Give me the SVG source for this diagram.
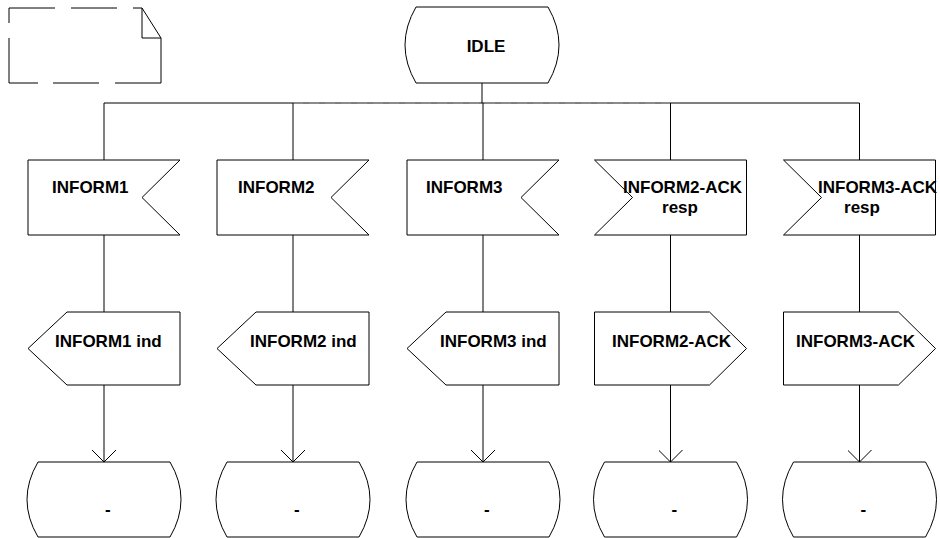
<svg xmlns="http://www.w3.org/2000/svg" width="940" height="538" viewBox="0 0 940 538">
<style>
.s{fill:#fff;stroke:#000;stroke-width:1}
.c{fill:none;stroke:#000;stroke-width:1}
.t{font-family:"Liberation Sans",Arial,sans-serif;font-weight:bold;font-size:17px;fill:#000}
</style>
<defs>
<marker id="arr" viewBox="0 0 12 24" refX="12" refY="12" markerWidth="12" markerHeight="24" markerUnits="userSpaceOnUse" orient="auto">
<path d="M0,0 L12,12 L0,24" fill="none" stroke="#000" stroke-width="1"/>
</marker>
</defs>
<rect width="940" height="538" fill="#fff"/>
<g id="comment">
<path class="c" d="M9,8 L55,8 M71,8 L117,8 M133,8 L142,8 L161,38 L161,83 L115,83 M99,83 L53,83 M38,83 L9,83 L9,38 M9,23 L9,8 M142,8 L142,38 L161,38"/>
</g>
<g id="connectors">
<path class="c" d="M482,83 L482,103 M104,103 L859.5,103"/>
<path d="M293,103 L670.5,103" fill="none" stroke="#999" stroke-width="1" stroke-dasharray="10 6"/>
<path class="c" d="M104,103 L104,160 M293,103 L293,160 M483,103 L483,160 M670.5,103 L670.5,160 M859.5,103 L859.5,160"/>
<path class="c" d="M104,235 L104,312 M293,235 L293,312 M483,235 L483,312 M670.5,235 L670.5,312 M859.5,235 L859.5,312"/>
<path class="c" d="M104,385 L104,462" marker-end="url(#arr)"/>
<path class="c" d="M293,385 L293,462" marker-end="url(#arr)"/>
<path class="c" d="M483,385 L483,462" marker-end="url(#arr)"/>
<path class="c" d="M670.5,385 L670.5,462" marker-end="url(#arr)"/>
<path class="c" d="M859.5,385 L859.5,462" marker-end="url(#arr)"/>
</g>
<g id="idle">
<path class="s" d="M416,7 L548,7 Q570,45 548,83 L416,83 Q394,45 416,7 Z"/>
<text class="t" x="486" y="52" text-anchor="middle">IDLE</text>
</g>
<g id="in1">
<path class="s" d="M28,160 L180,160 L142,197.5 L180,235 L28,235 Z"/>
<text class="t" x="52" y="193">INFORM1</text>
</g>
<g id="in2">
<path class="s" d="M217,160 L369,160 L331,197.5 L369,235 L217,235 Z"/>
<text class="t" x="238" y="193">INFORM2</text>
</g>
<g id="in3">
<path class="s" d="M407,160 L559,160 L521,197.5 L559,235 L407,235 Z"/>
<text class="t" x="426" y="193">INFORM3</text>
</g>
<g id="in4">
<path class="s" d="M594.5,160 L746.5,160 L746.5,235 L594.5,235 L632.5,197.5 Z"/>
<text class="t" x="623" y="193">INFORM2-ACK</text>
<text class="t" x="680" y="213" text-anchor="middle">resp</text>
</g>
<g id="in5">
<path class="s" d="M783.5,160 L935.5,160 L935.5,235 L783.5,235 L821.5,197.5 Z"/>
<text class="t" x="818" y="193">INFORM3-ACK</text>
<text class="t" x="862" y="213" text-anchor="middle">resp</text>
</g>
<g id="out1">
<path class="s" d="M67,312 L180,312 L180,385 L67,385 L28,348.5 Z"/>
<text class="t" x="55" y="347">INFORM1 ind</text>
</g>
<g id="out2">
<path class="s" d="M256,312 L369,312 L369,385 L256,385 L217,348.5 Z"/>
<text class="t" x="250" y="347">INFORM2 ind</text>
</g>
<g id="out3">
<path class="s" d="M446,312 L559,312 L559,385 L446,385 L407,348.5 Z"/>
<text class="t" x="440" y="347">INFORM3 ind</text>
</g>
<g id="out4">
<path class="s" d="M594.5,312 L709.5,312 L746.5,348.5 L709.5,385 L594.5,385 Z"/>
<text class="t" x="612" y="347">INFORM2-ACK</text>
</g>
<g id="out5">
<path class="s" d="M783.5,312 L898.5,312 L935.5,348.5 L898.5,385 L783.5,385 Z"/>
<text class="t" x="796" y="347">INFORM3-ACK</text>
</g>
<g id="end1">
<path class="s" d="M38,462 L170,462 Q192,499.5 170,537 L38,537 Q16,499.5 38,462 Z"/>
<text class="t" x="105" y="515">-</text>
</g>
<g id="end2">
<path class="s" d="M227,462 L359,462 Q381,499.5 359,537 L227,537 Q205,499.5 227,462 Z"/>
<text class="t" x="294" y="515">-</text>
</g>
<g id="end3">
<path class="s" d="M417,462 L549,462 Q571,499.5 549,537 L417,537 Q395,499.5 417,462 Z"/>
<text class="t" x="484" y="515">-</text>
</g>
<g id="end4">
<path class="s" d="M604.5,462 L736.5,462 Q758.5,499.5 736.5,537 L604.5,537 Q582.5,499.5 604.5,462 Z"/>
<text class="t" x="671.5" y="515">-</text>
</g>
<g id="end5">
<path class="s" d="M793.5,462 L925.5,462 Q947.5,499.5 925.5,537 L793.5,537 Q771.5,499.5 793.5,462 Z"/>
<text class="t" x="860.5" y="515">-</text>
</g>
</svg>
